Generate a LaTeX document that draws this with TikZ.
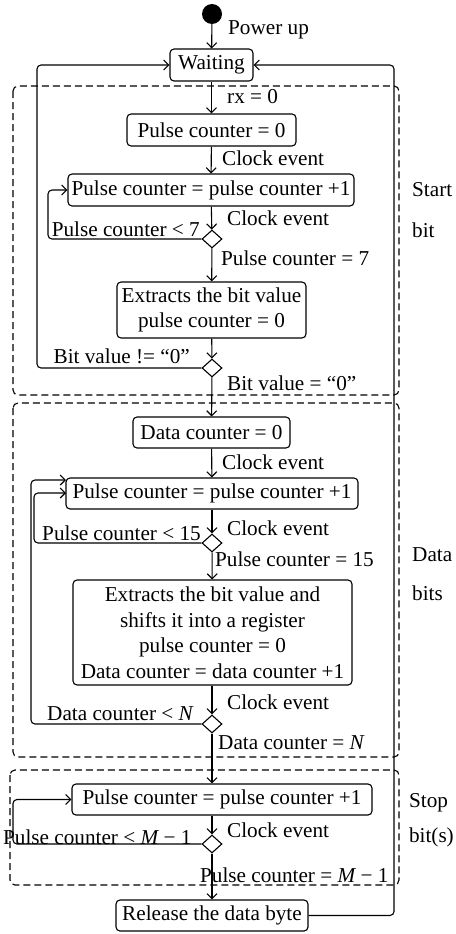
\documentclass[tikz,border=0pt]{standalone}
\usepackage{fontspec}
\setmainfont{Liberation Serif}
\usetikzlibrary{arrows.meta,shapes.geometric}
\tikzset{
  box/.style={draw, rounded corners=4pt, line width=1.1pt, inner sep=0pt, align=center, font=\fontsize{21.2}{25.5}\selectfont},
  dec/.style={draw, diamond, line width=1.1pt, inner sep=0pt, minimum width=20pt, minimum height=18pt},
  lbl/.style={anchor=west, inner sep=0pt, font=\fontsize{21.2}{25}\selectfont},
  arr/.style={line width=1.1pt, -{Straight Barb[length=5pt,width=10pt,line width=1.1pt]}},
  ln/.style={line width=1.1pt, rounded corners=4pt},
  grp/.style={draw, dashed, dash pattern=on 7pt off 4pt, line width=1.1pt, rounded corners=5pt}
}
\begin{document}
\begin{tikzpicture}[x=1pt,y=-1pt]
\useasboundingbox (0,0) rectangle (455,934);
% groups
\draw[grp] (13,86) rectangle (399,395);
\draw[grp] (13,403) rectangle (399,757);
\draw[grp] (10,770) rectangle (399,885);
% nodes
\node[circle, fill=black, minimum size=20pt, inner sep=0pt] (start) at (212,14) {};
\node[box, minimum width=83pt, minimum height=32pt] (waiting) at (211.5,65) {Waiting};
\node[box, minimum width=169pt, minimum height=32pt] (pc0) at (211.5,130) {Pulse counter = 0};
\node[box, minimum width=286pt, minimum height=32pt] (inc1) at (211,190) {Pulse counter = pulse counter +1};
\node[dec] (d1) at (212,239) {};
\node[box, minimum width=189pt, minimum height=56pt] (ext1) at (211.5,310) {Extracts the bit value\\pulse counter = 0};
\node[dec] (d2) at (212,368) {};
\node[box, minimum width=157pt, minimum height=31pt] (dc0) at (211.5,432.5) {Data counter = 0};
\node[box, minimum width=292pt, minimum height=31pt] (inc2) at (212,493.5) {Pulse counter = pulse counter +1};
\node[dec] (d3) at (212,543) {};
\node[box, minimum width=279pt, minimum height=105pt] (ext2) at (212.5,632.5) {Extracts the bit value and\\shifts it into a register\\pulse counter = 0\\Data counter = data counter +1};
\node[dec] (d4) at (212,724) {};
\node[box, minimum width=300pt, minimum height=31pt] (inc3) at (222,799.5) {Pulse counter = pulse counter +1};
\node[dec] (d5) at (212,844) {};
\node[box, minimum width=192pt, minimum height=31pt] (rel) at (212,915.5) {Release the data byte};
% loop coordinates
\coordinate (L0) at (37,0);
\coordinate (L1) at (48,0);
\coordinate (L2) at (34,0);
\coordinate (L3) at (31,0);
\coordinate (L4) at (13,0);
\coordinate (R0) at (394,0);
\coordinate (E2a) at (66,480);
\coordinate (E2b) at (66,493);
% main flow
\draw[arr] (start) -- (waiting);
\draw[arr] (waiting) -- (pc0);
\draw[arr] (pc0) -- (inc1);
\draw[arr] (inc1) -- (d1);
\draw[arr] (d1) -- (ext1);
\draw[arr] (ext1) -- (d2);
\draw[arr] (d2) -- (dc0);
\draw[arr] (dc0) -- (inc2);
\draw[arr] (inc2) -- (d3);
\draw[arr] (d3) -- (ext2);
\draw[arr] (ext2.south -| d4) -- (d4);
\draw[arr] (d4) -- (d4 |- inc3.north);
\draw[arr] (d4 |- inc3.south) -- (d5);
\draw[arr] (d5) -- (rel);
% loops
\draw[ln, arr] (d1.west) -- (d1.west -| L1) |- (inc1.west);
\draw[ln, arr] (d2.west) -- (d2.west -| L0) |- (waiting.west);
\draw[ln, arr] (d3.west) -- (d3.west -| L2) |- (E2b);
\draw[ln, arr] (d4.west) -- (d4.west -| L3) |- (E2a);
\draw[ln, arr] (d5.west) -- (d5.west -| L4) |- (inc3.west);
\draw[ln, arr] (rel.east) -- (rel.east -| R0) |- (waiting.east);
% labels
\node[lbl] (t1) at (228,30) {Power up};
\node[lbl] (t2) at (227,97) {rx = 0};
\node[lbl] (t3) at (222,158) {Clock event};
\node[lbl] (t4) at (227,218) {Clock event};
\node[lbl, anchor=east] (t5) at (200,229) {Pulse counter < 7};
\node[lbl] (t6) at (221,258) {Pulse counter = 7};
\node[lbl, anchor=east] (t7) at (190,356) {Bit value != “0”};
\node[lbl] (t8) at (227,383) {Bit value = “0”};
\node[lbl] (t9) at (222,462) {Clock event};
\node[lbl] (t10) at (227,528) {Clock event};
\node[lbl, anchor=east] (t11) at (201,533) {Pulse counter < 15};
\node[lbl] (t12) at (215,559) {Pulse counter = 15};
\node[lbl] (t13) at (227,702) {Clock event};
\node[lbl, anchor=east] (t14) at (193,714) {Data counter < {\itshape N}};
\node[lbl] (t15) at (218,743) {Data counter = {\itshape N}};
\node[lbl] (t16) at (227,830) {Clock event};
\node[lbl] (t17) at (3,837) {Pulse counter < {\itshape M} − 1};
\node[lbl] (t18) at (200,875) {Pulse counter = {\itshape M} − 1};
\node[lbl] (s1) at (412,190) {Start};
\node[lbl] (s2) at (412,230) {bit};
\node[lbl] (s3) at (412,555) {Data};
\node[lbl] (s4) at (412,593) {bits};
\node[lbl] (s5) at (409,803) {Stop};
\node[lbl, anchor=east] (s6) at (454,837) {bit(s)};
\end{tikzpicture}
\end{document}
